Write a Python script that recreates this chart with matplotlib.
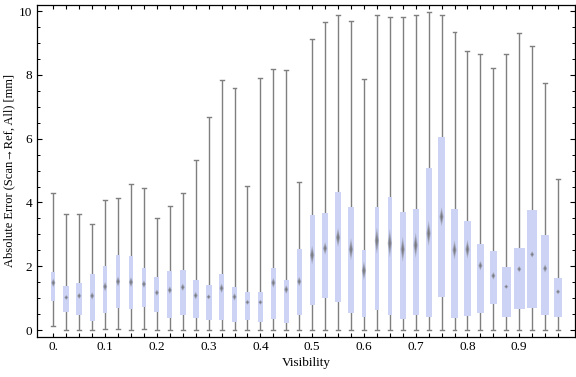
import numpy as np
import matplotlib
matplotlib.use("Agg")
from matplotlib import pyplot as plt
from matplotlib.patches import Polygon, Rectangle

plt.rcParams['font.family'] = ['Liberation Serif', 'DejaVu Serif']

# visibility bins, 0 .. 0.975 in 0.025 steps
visibility = [0.000, 0.025, 0.050, 0.075, 0.100, 0.125, 0.150, 0.175,
              0.200, 0.225, 0.250, 0.275, 0.300, 0.325, 0.350, 0.375,
              0.400, 0.425, 0.450, 0.475, 0.500, 0.525, 0.550, 0.575,
              0.600, 0.625, 0.650, 0.675, 0.700, 0.725, 0.750, 0.775,
              0.800, 0.825, 0.850, 0.875, 0.900, 0.925, 0.950, 0.975]
whisker_lo = [0.13, 0.00, 0.00, 0.00, 0.02, 0.03, 0.00, 0.02,
              0.00, 0.00, 0.00, 0.00, 0.00, 0.00, 0.00, 0.00,
              0.00, 0.00, 0.00, 0.00, 0.00, 0.00, 0.00, 0.00,
              0.00, 0.00, 0.00, 0.00, 0.00, 0.00, 0.00, 0.00,
              0.00, 0.00, 0.00, 0.00, 0.00, 0.00, 0.00, 0.00]
q1 = [0.92, 0.57, 0.47, 0.29, 0.54, 0.69, 0.66, 0.73,
      0.56, 0.39, 0.47, 0.39, 0.31, 0.31, 0.25, 0.31,
      0.26, 0.34, 0.23, 0.46, 0.77, 1.01, 0.88, 0.54,
      0.42, 0.64, 0.48, 0.35, 0.48, 0.42, 1.04, 0.39,
      0.45, 0.54, 0.83, 0.42, 0.67, 0.70, 0.46, 0.42]
q3 = [1.83, 1.38, 1.49, 1.76, 2.00, 2.35, 2.32, 1.95,
      1.67, 1.85, 1.88, 1.57, 1.41, 1.76, 1.35, 1.19,
      1.19, 1.94, 1.57, 2.54, 3.60, 3.67, 4.33, 3.86,
      2.51, 3.86, 4.17, 3.70, 3.79, 5.07, 6.05, 3.81,
      3.42, 2.70, 2.47, 1.97, 2.57, 3.76, 2.98, 1.63]
whisker_hi = [4.30, 3.63, 3.63, 3.31, 4.07, 4.13, 4.58, 4.44,
              3.50, 3.88, 4.30, 5.33, 6.67, 7.84, 7.58, 4.51,
              7.89, 8.17, 8.14, 4.65, 9.14, 9.65, 9.87, 9.68,
              7.86, 9.87, 9.80, 9.80, 9.88, 9.98, 9.88, 9.33,
              8.74, 8.67, 8.23, 8.67, 9.30, 8.92, 7.76, 4.75]
center = [1.48, 1.02, 1.07, 1.07, 1.36, 1.52, 1.50, 1.44,
          1.17, 1.25, 1.34, 1.08, 1.04, 1.31, 1.04, 0.87,
          0.87, 1.48, 1.27, 1.52, 2.35, 2.56, 2.90, 2.53,
          1.86, 2.80, 2.72, 2.53, 2.66, 3.03, 3.55, 2.51,
          2.53, 2.02, 1.70, 1.36, 1.91, 2.37, 1.93, 1.20]
ci_half = [0.14, 0.08, 0.10, 0.12, 0.15, 0.16, 0.16, 0.12,
           0.10, 0.12, 0.12, 0.12, 0.08, 0.15, 0.12, 0.08,
           0.08, 0.16, 0.14, 0.15, 0.30, 0.20, 0.30, 0.35,
           0.30, 0.42, 0.45, 0.40, 0.40, 0.40, 0.30, 0.30,
           0.30, 0.15, 0.12, 0.07, 0.10, 0.10, 0.13, 0.08]
box_w = [0.0080, 0.0120, 0.0115, 0.0100, 0.0080, 0.0085, 0.0080, 0.0090,
         0.0100, 0.0090, 0.0110, 0.0115, 0.0115, 0.0105, 0.0105, 0.0105,
         0.0105, 0.0105, 0.0105, 0.0100, 0.0100, 0.0130, 0.0115, 0.0100,
         0.0075, 0.0085, 0.0088, 0.0115, 0.0115, 0.0115, 0.0120, 0.0135,
         0.0135, 0.0135, 0.0135, 0.0175, 0.0205, 0.0205, 0.0155, 0.0155]
tick_vals = [0.0, 0.1, 0.2, 0.3, 0.4, 0.5, 0.6, 0.7, 0.8, 0.9]
tick_text = ["0.", "0.1", "0.2", "0.3", "0.4", "0.5", "0.6", "0.7", "0.8", "0.9"]

box_color = "#ccd3f4"
line_color = "#7f7f7f"

fig = plt.figure(figsize=(5.76, 3.77), dpi=100)
ax = fig.add_axes([0.0634, 0.106, 0.9357, 0.8815])

cap = 0.0038
dw = 0.0042
for x, lo, a, b, hi, c, h, w in zip(visibility, whisker_lo, q1, q3,
                                    whisker_hi, center, ci_half, box_w):
    ax.plot([x, x], [lo, hi], color=line_color, lw=1.0, zorder=1,
            solid_capstyle="butt")
    ax.plot([x - cap, x + cap], [lo, lo], color=line_color, lw=1.0, zorder=1)
    ax.plot([x - cap, x + cap], [hi, hi], color=line_color, lw=1.0, zorder=1)
    ax.add_patch(Rectangle((x - w / 2, a), w, b - a, facecolor=box_color,
                           edgecolor="none", zorder=2))
    # soft diamond: layered for a blurred look
    for scale, alpha in [(1.0, 0.3), (0.7, 0.45), (0.4, 0.6)]:
        ax.add_patch(Polygon([(x, c - h * scale), (x + dw * scale, c),
                              (x, c + h * scale), (x - dw * scale, c)],
                             closed=True, facecolor="#6a6a6a",
                             edgecolor="none", alpha=alpha, zorder=3))

ax.set_xlim(-0.0325, 1.0087)
ax.set_ylim(-0.22, 10.2)

ax.set_xticks(visibility)
ax.set_xticklabels([tick_text[tick_vals.index(v)] if v in tick_vals else ""
                    for v in [round(v, 3) for v in visibility]])
ax.set_yticks([0, 2, 4, 6, 8, 10])
ax.set_yticks(np.arange(0, 10.01, 0.5), minor=True)
ax.tick_params(axis="x", which="major", direction="in", length=3, width=0.8,
               top=True, labelsize=9.5, pad=3)
ax.tick_params(axis="y", which="major", direction="in", length=3.5, width=0.8,
               right=True, labelsize=9.5, pad=3)
ax.tick_params(axis="y", which="minor", direction="in", length=2, width=0.7,
               right=True)
for s in ax.spines.values():
    s.set_linewidth(0.9)

ax.set_xlabel("Visibility", fontsize=9.5, labelpad=3)
ax.set_ylabel("Absolute Error (Scan\u2192Ref, All) [mm]", fontsize=9,
              labelpad=2.5)

fig.savefig("out.png", dpi=100)
